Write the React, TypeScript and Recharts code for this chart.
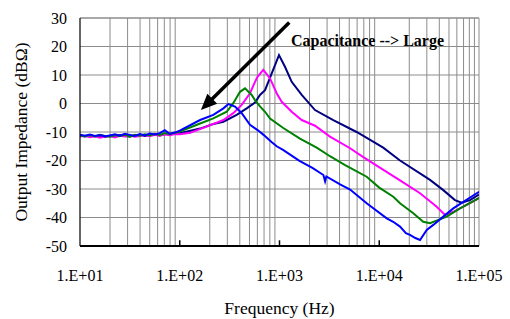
import React from "react";
import { LineChart, Line, XAxis, YAxis, CartesianGrid, ReferenceLine } from "recharts";

const xTicks = [10, 100, 1000, 10000, 100000];
const yTicks = [-50, -40, -30, -20, -10, 0, 10, 20, 30];

const lowFreq = [10, 11.2, 12.6, 14.1, 15.8, 17.8, 20, 22.4, 25.1, 28.2, 31.6, 35.5, 39.8, 44.7, 50.1, 56.2, 63.1, 70.8, 79.4, 89.1];

const blueLow = [-11.0, -11.3, -10.9, -11.4, -11.1, -11.5, -11.2, -10.8, -11.3, -10.6, -11.0, -11.4, -10.7, -11.2, -10.5, -10.9, -10.4, -9.4, -10.6, -10.2];
const greenLow = [-11.2, -11.5, -11.1, -11.6, -11.0, -11.4, -11.7, -11.1, -11.5, -10.9, -11.6, -11.0, -11.3, -10.8, -11.2, -10.6, -11.0, -10.4, -10.7, -10.3];
const magentaLow = [-11.6, -11.3, -11.8, -11.5, -12.0, -11.6, -11.4, -11.9, -11.3, -11.6, -11.2, -11.7, -11.4, -11.1, -11.5, -11.0, -11.3, -10.8, -11.1, -10.7];
const navyLow = [-11.3, -11.6, -11.2, -11.5, -11.3, -11.7, -11.2, -11.5, -11.1, -11.4, -11.6, -11.2, -11.0, -11.4, -11.1, -10.8, -11.2, -10.7, -10.9, -10.6];

const blueHigh: [number, number][] = [
  [100, -9.5], [160, -5.8], [217, -4.0], [274, -1.7], [307, -0.2], [358, -1.1], [418, -3.4],
  [506, -7.5], [613, -9.5], [692, -11.0], [832, -13.5], [937, -15.0], [1085, -16.3],
  [1585, -20.1], [2138, -22.6], [2754, -25.1], [2864, -27.3], [2950, -25.6], [4046, -28.4],
  [5100, -30.2], [7482, -35.0], [11885, -40.3], [13800, -41.5], [16144, -43.2], [18500, -45.5],
  [20324, -46.1], [23000, -47.2], [25650, -47.9], [29920, -44.4], [34800, -42.6], [43850, -39.7],
  [55200, -36.8], [69700, -34.5], [94900, -31.5], [100000, -31.0],
];

const greenHigh: [number, number][] = [
  [100, -9.8], [160, -7.0], [217, -5.2], [296, -2.9], [344, 0.1], [402, 4.1], [451, 5.3],
  [526, 3.0], [568, 1.2], [637, -1.0], [716, -2.9], [804, -5.3], [1091, -8.6], [1603, -12.3],
  [2360, -15.5], [3206, -18.5], [4500, -21.5], [7482, -25.7], [10000, -29.5], [13836, -32.7],
  [16144, -35.0], [21930, -38.5], [27600, -41.5], [32270, -42.0], [47420, -39.7], [64570, -36.8],
  [98400, -33.3], [100000, -33.0],
];

const magentaHigh: [number, number][] = [
  [100, -10.8], [127, -10.3], [186, -8.1], [274, -5.8], [344, -3.4], [418, -0.5], [506, 3.6],
  [568, 7.6], [600, 9.3], [688, 11.8], [804, 8.8], [937, 3.6], [1052, 0.6], [1325, -2.9],
  [1670, -5.8], [2270, -7.8], [3206, -11.6], [5100, -15.7], [6918, -18.8], [16144, -27.0],
  [25650, -31.5], [37670, -36.2], [45600, -39.1], [55200, -38.0], [75340, -35.6], [98400, -33.3],
  [100000, -33.0],
];

const navyHigh: [number, number][] = [
  [100, -10.4], [160, -8.8], [217, -7.2], [274, -6.4], [372, -4.0], [469, -1.7], [568, 0.3],
  [637, 3.0], [716, 4.7], [836, 10.6], [988, 17.0], [1135, 12.9], [1325, 7.6], [1670, 3.0],
  [2270, -2.3], [3460, -5.8], [5930, -10.0], [10960, -15.5], [16144, -20.0], [32270, -26.8],
  [43850, -30.4], [57400, -33.9], [67000, -34.8], [81300, -33.9], [98400, -32.1], [100000, -32.0],
];

const arrowFrom = { f: 1253, z: 28.4 };
const arrowTo = { f: 163, z: -2.3 };
const noteAt = { f: 1303, z: 20.2 };
const noteText = "Capacitance --> Large";

const build = (low: number[], high: [number, number][]) => [
  ...lowFreq.map((f, i) => ({ f, z: low[i] })),
  ...high.map(([f, z]) => ({ f, z })),
];

const blueData = build(blueLow, blueHigh);
const greenData = build(greenLow, greenHigh);
const magentaData = build(magentaLow, magentaHigh);
const navyData = build(navyLow, navyHigh);

const minorX: number[] = [];
[10, 100, 1000, 10000].forEach((d) => {
  for (let k = 2; k <= 9; k++) minorX.push(d * k);
});
const majorX = [100, 1000, 10000];

const FONT = "Liberation Serif, serif";
const GRID = "#8c8c8c";

const fmtX = (v: number) => `1.E+0${Math.round(Math.log10(v))}`;

const ArrowShape = (p: any) => {
  const { x1, y1, x2, y2 } = p;
  const dx = x2 - x1;
  const dy = y2 - y1;
  const len = Math.sqrt(dx * dx + dy * dy) || 1;
  const ux = dx / len;
  const uy = dy / len;
  const L = 16;
  const W = 7;
  const bx = x2 - ux * L;
  const by = y2 - uy * L;
  const nx = -uy;
  const ny = ux;
  return (
    <g>
      <line x1={x1} y1={y1} x2={bx + ux * 2} y2={by + uy * 2} stroke="#000" strokeWidth={3.5} />
      <polygon
        points={`${x2},${y2} ${bx + nx * W},${by + ny * W} ${bx - nx * W},${by - ny * W}`}
        fill="#000"
      />
    </g>
  );
};

const NoteShape = (p: any) => (
  <text x={p.x1} y={p.y1} style={{ fontFamily: FONT }} fontFamily={FONT} fontSize={16} fontWeight="bold" fill="#000">
    {noteText}
  </text>
);

const YLabel = (p: any) => {
  const vb = p.viewBox || { x: 0, y: 18, width: 80, height: 228 };
  const cx = vb.x + 27;
  const cy = vb.y + vb.height / 2;
  return (
    <text x={cx} y={cy} transform={`rotate(-90 ${cx} ${cy})`} textAnchor="middle" style={{ fontFamily: FONT }} fontFamily={FONT} fontSize={17.5} fill="#000">
      Output Impedance (dBΩ)
    </text>
  );
};

const XLabel = (p: any) => {
  const vb = p.viewBox || { x: 80, y: 246, width: 399, height: 73 };
  return (
    <text x={vb.x + vb.width / 2} y={vb.y + 67.5} textAnchor="middle" style={{ fontFamily: FONT }} fontFamily={FONT} fontSize={17.5} fill="#000">
      Frequency (Hz)
    </text>
  );
};

const tickStyle = { fill: "#000", fontFamily: FONT, fontSize: 16, style: { fontFamily: FONT } };

export default function App() {
  return (
    <div style={{ position: "absolute", left: 0, top: 0, width: 510, height: 319, background: "#fff", fontFamily: FONT }}>
      <LineChart width={510} height={319} margin={{ top: 18, right: 31, bottom: 0, left: 0 }} style={{ fontFamily: FONT }}>
        <CartesianGrid horizontal={true} vertical={false} stroke={GRID} strokeWidth={1} />
        {minorX.map((v) => (
          <ReferenceLine key={`mx${v}`} x={v} stroke={GRID} strokeWidth={1} />
        ))}
        {majorX.map((v) => (
          <ReferenceLine key={`tk${v}`} segment={[{ x: v, y: -50 }, { x: v, y: -48 }]} stroke="#000" strokeWidth={1.5} />
        ))}
        <ReferenceLine y={30} stroke={GRID} strokeWidth={1} />
        <ReferenceLine x={100000} stroke={GRID} strokeWidth={1} />
        <XAxis
          dataKey="f"
          type="number"
          scale="log"
          domain={[10, 100000]}
          ticks={xTicks}
          tickFormatter={fmtX}
          allowDataOverflow
          height={73}
          tickLine={false}
          tickMargin={18}
          axisLine={{ stroke: "#000", strokeWidth: 2 }}
          tick={tickStyle}
          label={<XLabel />}
        />
        <YAxis
          type="number"
          domain={[-50, 30]}
          ticks={yTicks}
          allowDataOverflow
          width={80}
          tickLine={false}
          tickMargin={7}
          axisLine={{ stroke: "#000", strokeWidth: 1.2 }}
          tick={tickStyle}
          label={<YLabel />}
        />
        <Line data={navyData} dataKey="z" stroke="#000080" strokeWidth={2} dot={false} isAnimationActive={false} />
        <Line data={magentaData} dataKey="z" stroke="#ff00ff" strokeWidth={2} dot={false} isAnimationActive={false} />
        <Line data={greenData} dataKey="z" stroke="#008000" strokeWidth={2} dot={false} isAnimationActive={false} />
        <Line data={blueData} dataKey="z" stroke="#0000ff" strokeWidth={2} dot={false} isAnimationActive={false} />
        <ReferenceLine
          segment={[{ x: arrowFrom.f, y: arrowFrom.z }, { x: arrowTo.f, y: arrowTo.z }]}
          shape={ArrowShape}
        />
        <ReferenceLine
          segment={[{ x: noteAt.f, y: noteAt.z }, { x: noteAt.f, y: noteAt.z }]}
          shape={NoteShape}
        />
      </LineChart>
    </div>
  );
}
